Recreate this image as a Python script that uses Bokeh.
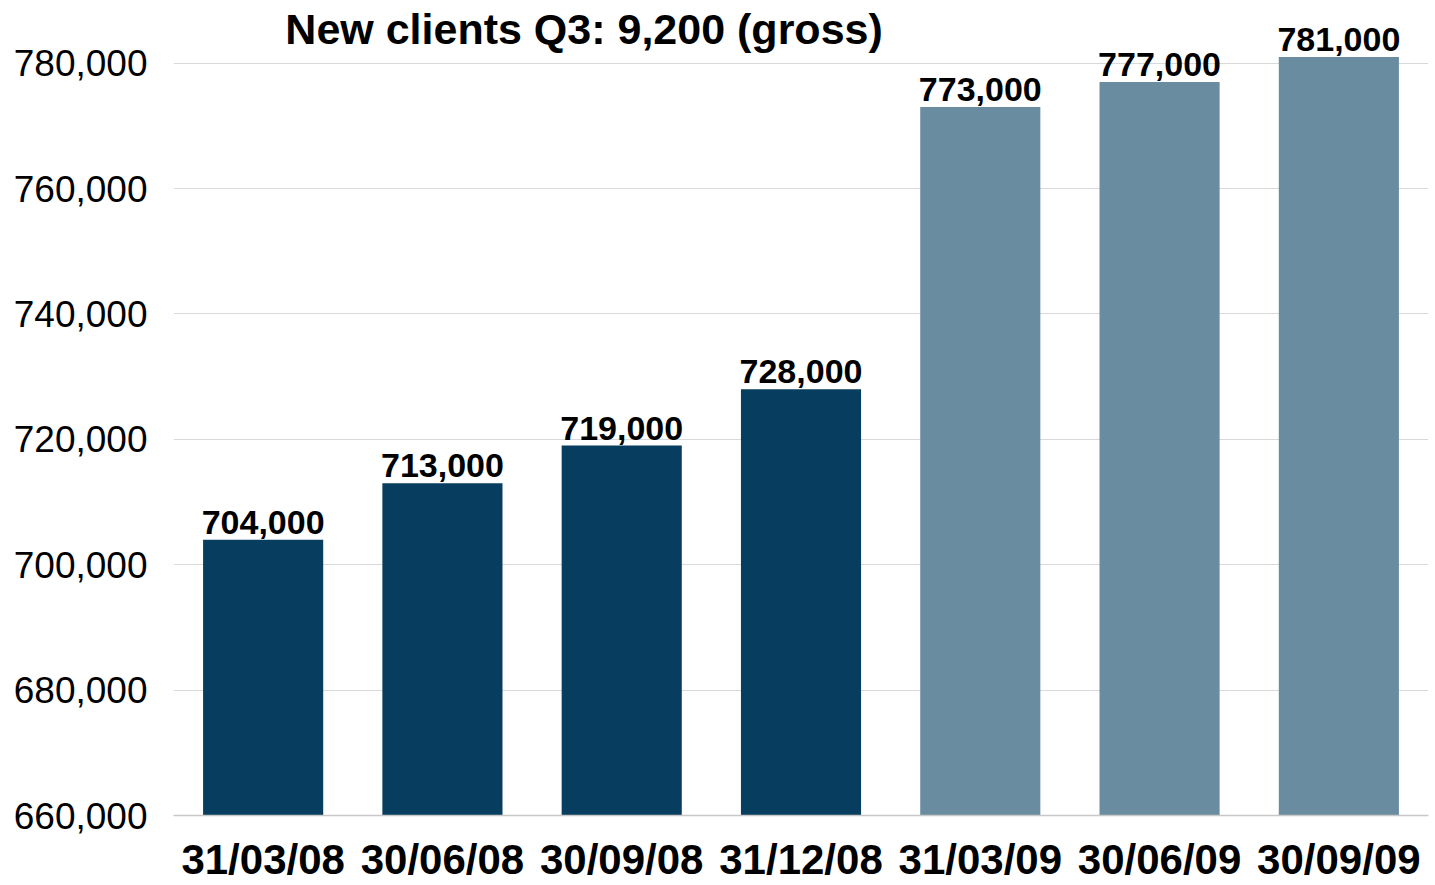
from bokeh.plotting import figure
from bokeh.models import ColumnDataSource, Range1d, FixedTicker, NumeralTickFormatter, Label
from bokeh.core.properties import value
from bokeh.embed import file_html
from bokeh.resources import INLINE

categories = ["31/03/08", "30/06/08", "30/09/08", "31/12/08", "31/03/09", "30/06/09", "30/09/09"]
clients = [704000, 713000, 719000, 728000, 773000, 777000, 781000]
labels = ["704,000", "713,000", "719,000", "728,000", "773,000", "777,000", "781,000"]
colors = ["#073D5E", "#073D5E", "#073D5E", "#073D5E", "#698CA0", "#698CA0", "#698CA0"]
y_ticks = [660000, 680000, 700000, 720000, 740000, 760000, 780000]
title_text = "New clients Q3: 9,200 (gross)"

FONT = "Liberation Sans"

src = ColumnDataSource(dict(cat=categories, val=clients, lab=labels, col=colors))

p = figure(x_range=categories, y_range=Range1d(660000, 790000),
           width=1430, height=885, output_backend="svg", toolbar_location=None,
           min_border_left=173, min_border_right=2, min_border_top=0, min_border_bottom=40)
p.outline_line_color = None

p.vbar(x="cat", top="val", bottom=660000, width=0.67, color="col", line_color=None, source=src)
p.text(x="cat", y="val", text="lab", source=src, text_align="center", text_baseline="bottom",
       y_offset=-6, text_font=value(FONT), text_font_size="34px", text_font_style="bold",
       text_color="#000000")

p.add_layout(Label(x=2.29, y=785500, text=title_text, text_align="center", text_baseline="middle",
                   text_font=FONT, text_font_size="43px", text_font_style="bold", text_color="#000000"))

p.x_range.range_padding = 0
p.xgrid.grid_line_color = None
p.ygrid.grid_line_color = "#d9d9d9"
p.ygrid.grid_line_width = 1

p.yaxis.ticker = FixedTicker(ticks=y_ticks)
p.yaxis.formatter = NumeralTickFormatter(format="0,0")
p.yaxis.axis_line_color = None
p.yaxis.major_tick_line_color = None
p.yaxis.minor_tick_line_color = None
p.yaxis.major_label_standoff = 20
p.yaxis.major_label_text_font = FONT
p.yaxis.major_label_text_font_size = "37px"
p.yaxis.major_label_text_color = "#000000"

p.xaxis.axis_line_color = "#c8c8c8"
p.xaxis.axis_line_width = 1.5
p.xaxis.major_tick_line_color = None
p.xaxis.minor_tick_line_color = None
p.xaxis.major_label_standoff = 14
p.xaxis.major_label_text_font = FONT
p.xaxis.major_label_text_font_size = "42px"
p.xaxis.major_label_text_font_style = "bold"
p.xaxis.major_label_text_color = "#000000"

open("out.html", "w").write(file_html(p, INLINE))
